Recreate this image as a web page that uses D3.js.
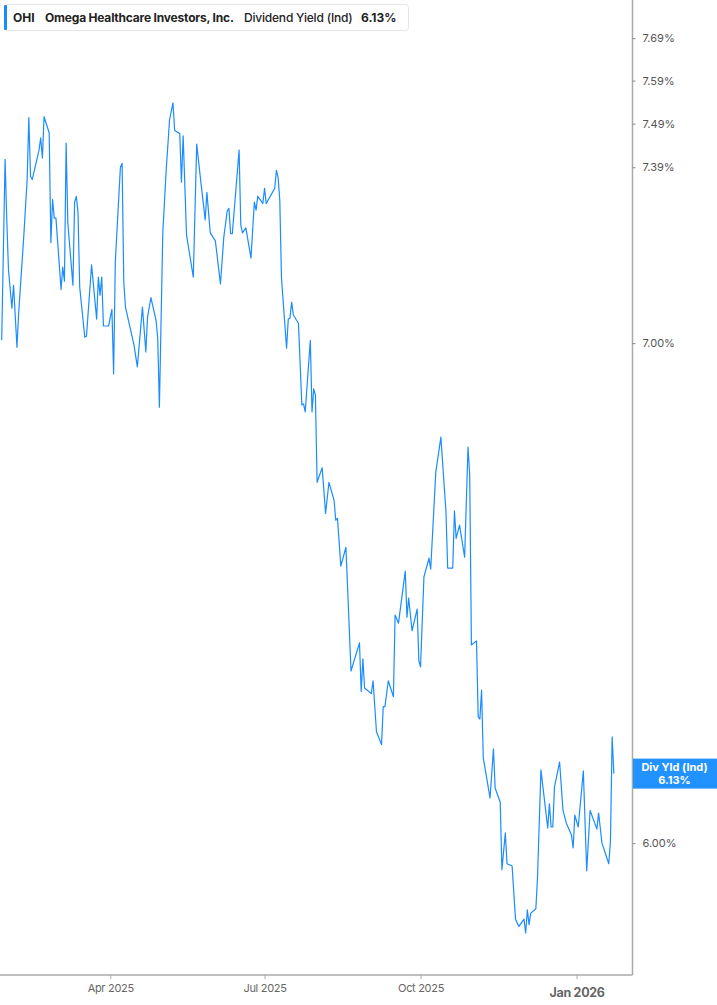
<!DOCTYPE html>
<html>
<head>
<meta charset="utf-8">
<script src="https://cdn.jsdelivr.net/npm/d3@7"></script>
<style>
  html, body { margin: 0; padding: 0; background: #fff; }
  svg { display: block; font-family: Inter, "Noto Sans", sans-serif; }
</style>
</head>
<body>
<svg id="chart" width="717" height="1005"></svg>
<script>
// ---- data ----
const ticker = "OHI";
const company = "Omega Healthcare Investors, Inc.";
const metricName = "Dividend Yield (Ind)";
const lastLabel = "Div Yld (Ind)";
const lastValue = 6.13;

const dates = [
 "2025-01-27","2025-01-29","2025-01-30","2025-01-31","2025-02-02","2025-02-03","2025-02-05","2025-02-06","2025-02-09","2025-02-11",
 "2025-02-12","2025-02-13","2025-02-14","2025-02-18","2025-02-19","2025-02-20","2025-02-21","2025-02-24","2025-02-25","2025-02-26",
 "2025-02-27","2025-02-28","2025-03-03","2025-03-04","2025-03-05","2025-03-06","2025-03-07","2025-03-10","2025-03-11","2025-03-12",
 "2025-03-13","2025-03-14","2025-03-17","2025-03-18","2025-03-21","2025-03-24","2025-03-25","2025-03-26","2025-03-27","2025-03-28",
 "2025-03-31","2025-04-02","2025-04-03","2025-04-04","2025-04-07","2025-04-08","2025-04-09","2025-04-10","2025-04-15","2025-04-17",
 "2025-04-20","2025-04-22","2025-04-23","2025-04-25","2025-04-28","2025-04-29","2025-04-30","2025-05-02","2025-05-04","2025-05-06",
 "2025-05-08","2025-05-09","2025-05-12","2025-05-13","2025-05-14","2025-05-16","2025-05-20","2025-05-22","2025-05-24","2025-05-27",
 "2025-05-28","2025-05-30","2025-06-02","2025-06-05","2025-06-07","2025-06-09","2025-06-10","2025-06-11","2025-06-12","2025-06-16",
 "2025-06-17","2025-06-18","2025-06-20","2025-06-23","2025-06-25","2025-06-26","2025-06-27","2025-06-30","2025-07-01","2025-07-02",
 "2025-07-07","2025-07-08","2025-07-09","2025-07-10","2025-07-11","2025-07-14","2025-07-15","2025-07-16","2025-07-17","2025-07-18",
 "2025-07-21","2025-07-23","2025-07-24","2025-07-25","2025-07-28","2025-07-29","2025-07-30","2025-07-31","2025-08-01","2025-08-04",
 "2025-08-06","2025-08-08","2025-08-11","2025-08-12","2025-08-13","2025-08-15","2025-08-18","2025-08-21","2025-08-26","2025-08-27",
 "2025-08-28","2025-08-29","2025-09-02","2025-09-03","2025-09-05","2025-09-08","2025-09-09","2025-09-10","2025-09-12","2025-09-15",
 "2025-09-16","2025-09-18","2025-09-22","2025-09-23","2025-09-24","2025-09-26","2025-09-29","2025-09-30","2025-10-01","2025-10-03",
 "2025-10-06","2025-10-07","2025-10-10","2025-10-13","2025-10-16","2025-10-17","2025-10-20","2025-10-21","2025-10-22","2025-10-24",
 "2025-10-27","2025-10-29","2025-10-30","2025-10-31","2025-11-03","2025-11-04","2025-11-05","2025-11-06","2025-11-07","2025-11-11",
 "2025-11-13","2025-11-14","2025-11-17","2025-11-18","2025-11-20","2025-11-21","2025-11-24","2025-11-26","2025-11-28","2025-12-01",
 "2025-12-02","2025-12-03","2025-12-04","2025-12-05","2025-12-08","2025-12-09","2025-12-11","2025-12-15","2025-12-16","2025-12-17",
 "2025-12-18","2025-12-19","2025-12-22","2025-12-24","2025-12-26","2025-12-29","2025-12-30","2025-12-31","2026-01-02","2026-01-05",
 "2026-01-07","2026-01-09","2026-01-13","2026-01-14","2026-01-16","2026-01-20","2026-01-21","2026-01-22","2026-01-23"
];

const yields = [
 7.006,7.408,7.271,7.160,7.076,7.126,6.991,7.065,7.233,7.361,
 7.504,7.369,7.362,7.429,7.457,7.411,7.506,7.469,7.220,7.317,
 7.275,7.275,7.117,7.166,7.135,7.445,7.264,7.126,7.311,7.324,
 7.288,7.122,7.013,7.015,7.171,7.052,7.144,7.104,7.144,7.037,
 7.037,7.073,6.934,7.177,7.390,7.399,7.133,7.078,6.996,6.949,
 7.078,6.981,7.056,7.099,7.050,7.011,6.863,7.242,7.383,7.499,
 7.538,7.474,7.467,7.356,7.462,7.237,7.144,7.443,7.372,7.271,
 7.333,7.242,7.224,7.129,7.233,7.291,7.297,7.240,7.240,7.429,
 7.260,7.242,7.253,7.186,7.311,7.293,7.324,7.308,7.342,7.308,
 7.342,7.383,7.367,7.315,7.142,6.989,7.052,7.054,7.089,7.061,
 7.043,6.868,6.870,6.853,7.006,6.853,6.902,6.889,6.706,6.736,
 6.642,6.706,6.669,6.628,6.632,6.535,6.573,6.327,6.382,6.287,
 6.351,6.294,6.283,6.308,6.210,6.185,6.258,6.258,6.308,6.277,
 6.437,6.421,6.525,6.433,6.471,6.406,6.449,6.347,6.335,6.513,
 6.551,6.529,6.727,6.800,6.645,6.531,6.531,6.647,6.591,6.618,
 6.553,6.779,6.721,6.378,6.386,6.238,6.234,6.290,6.160,6.084,
 6.177,6.103,6.076,5.951,6.019,5.962,5.958,5.861,5.848,5.861,
 5.836,5.878,5.851,5.872,5.880,5.938,6.137,6.028,6.073,6.030,
 6.030,6.105,6.152,6.061,6.037,6.015,5.991,6.052,6.030,6.135,
 5.949,6.061,6.026,6.056,6.000,5.962,6.004,6.200,6.130
];

const yTicks = [6.00, 7.00, 7.39, 7.49, 7.59, 7.69];
const xTickDates = ["2025-04-01","2025-07-01","2025-10-01","2026-01-01"];
const xTickLabels = ["Apr 2025","Jul 2025","Oct 2025","Jan 2026"];

// ---- layout ----
const svg = d3.select("#chart");
const plotLeft = 0, plotRight = 632.5, plotTop = 0, plotBottom = 975;
const parse = d3.utcParse("%Y-%m-%d");

const x = d3.scaleUtc()
  .domain([parse("2025-01-26"), parse("2026-02-03")])
  .range([plotLeft, plotRight]);
const y = d3.scaleLog()
  .domain([5.761, 7.781])
  .range([plotBottom, plotTop]);

const series = dates.map((d, i) => ({ date: parse(d), v: yields[i] }));

// line
const line = d3.line().x(d => x(d.date)).y(d => y(d.v));
svg.append("path")
  .datum(series)
  .attr("fill", "none")
  .attr("stroke", "#1a8cff")
  .attr("stroke-width", 1.2)
  .attr("stroke-linejoin", "round")
  .attr("d", line);

// right axis
const yAxis = d3.axisRight(y)
  .tickValues(yTicks)
  .tickSize(3)
  .tickPadding(7)
  .tickFormat(d => d.toFixed(2) + "%");
const gy = svg.append("g")
  .attr("transform", `translate(${plotRight},0)`)
  .call(yAxis);
gy.select(".domain").attr("stroke", "#aaa").attr("stroke-width", 1.5)
  .attr("d", `M0,${plotTop}V${plotBottom}`);
gy.selectAll(".tick line").attr("stroke", "#888");
gy.selectAll(".tick text")
  .attr("fill", "#555")
  .attr("font-size", 11)
  .attr("font-family", "Inter, sans-serif");

// bottom axis
const xAxis = d3.axisBottom(x)
  .tickValues(xTickDates.map(parse))
  .tickSize(4)
  .tickPadding(5)
  .tickFormat((d, i) => xTickLabels[i]);
const gx = svg.append("g")
  .attr("transform", `translate(0,${plotBottom})`)
  .call(xAxis);
gx.select(".domain").attr("stroke", "#aaa").attr("stroke-width", 1.5)
  .attr("d", `M${plotLeft},0H${plotRight}`);
gx.selectAll(".tick line").attr("stroke", "#aaa");
gx.selectAll(".tick text")
  .attr("fill", "#666")
  .attr("font-size", 11)
  .attr("font-family", "Inter, sans-serif")
  .attr("letter-spacing", "-0.3px");
gx.selectAll(".tick text").filter((d, i) => xTickLabels[i].startsWith("Jan"))
  .attr("font-size", 12.5)
  .attr("font-weight", 700)
  .attr("dy", "1.0em");

// last value label
const ly = y(lastValue);
const lab = svg.append("g");
lab.append("rect")
  .attr("x", plotRight + 0.5).attr("y", ly - 15)
  .attr("width", 717 - plotRight).attr("height", 30)
  .attr("fill", "#2192ff");
lab.append("text")
  .attr("x", plotRight + 42).attr("y", ly - 3)
  .attr("text-anchor", "middle")
  .attr("fill", "#fff").attr("font-size", 11).attr("font-weight", 700)
  .text(lastLabel);
lab.append("text")
  .attr("x", plotRight + 42).attr("y", ly + 10)
  .attr("text-anchor", "middle")
  .attr("fill", "#fff").attr("font-size", 11).attr("font-weight", 700)
  .text(lastValue.toFixed(2) + "%");

// legend box
const leg = svg.append("g");
leg.append("rect")
  .attr("x", 4.5).attr("y", 4.5).attr("width", 404).attr("height", 26)
  .attr("rx", 3).attr("fill", "#fff").attr("stroke", "#e6e6e6");
leg.append("rect")
  .attr("x", 4).attr("y", 5).attr("width", 3).attr("height", 25)
  .attr("rx", 1).attr("fill", "#1a8cff");
const legY = 22;
leg.append("text").attr("x", 13).attr("y", legY)
  .attr("font-size", 12).attr("font-weight", 700).attr("fill", "#222").text(ticker);
leg.append("text").attr("x", 45).attr("y", legY)
  .attr("font-size", 12).attr("font-weight", 700).attr("fill", "#222")
  .attr("letter-spacing", "-0.2px").text(company);
leg.append("text").attr("x", 244).attr("y", legY)
  .attr("font-size", 12).attr("font-weight", 500).attr("fill", "#222")
  .attr("letter-spacing", "-0.2px").text(metricName);
leg.append("text").attr("x", 361).attr("y", legY)
  .attr("font-size", 12).attr("font-weight", 700).attr("fill", "#222")
  .text(lastValue.toFixed(2) + "%");
</script>
</body>
</html>
